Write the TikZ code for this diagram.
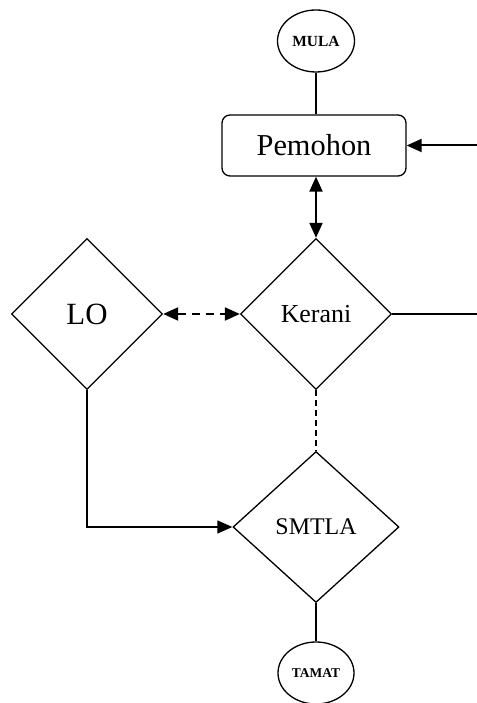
\documentclass[tikz,border=0pt]{standalone}
\usepackage{fontspec}
\setmainfont{Liberation Serif}
\usetikzlibrary{arrows.meta, positioning, shapes.geometric}

\begin{document}
\begin{tikzpicture}[
    x=1bp, y=1bp,
    >={Triangle[length=15bp, width=13bp]},
    terminal/.style={ellipse, draw, line width=1.3bp, inner sep=0pt, minimum width=77bp, minimum height=62bp, font=\fontsize{#1}{#1}\selectfont\bfseries},
    actor/.style={rectangle, rounded corners=8bp, draw, line width=1.3bp, minimum width=184bp, minimum height=61bp, font=\fontsize{30.5}{30.5}\selectfont},
    unit/.style={diamond, draw, line width=1.3bp, inner sep=0pt, minimum height=151bp, font=\fontsize{#1}{#1}\selectfont},
    plain/.style={line width=1.3bp},
    link/.style={line width=2bp}
  ]
  \useasboundingbox (0,0) rectangle (477,703);

  % Nodes
  \node[terminal=15.5] (mula) at (316, 662) {MULA};
  \node[actor] (pemohon) at (314, 557.5) {Pemohon};
  \node[unit=26, minimum width=151bp] (kerani) at (316, 389) {Kerani};
  \node[unit=31, minimum width=151bp] (lo) at (87, 389) {LO};
  \node[unit=24, minimum width=166bp] (smtla) at (316, 176) {SMTLA};
  \node[terminal=13.5, minimum width=76bp] (tamat) at (316, 30) {TAMAT};

  % Free ends at the right border
  \coordinate (inR) at (477, 557.5);
  \coordinate (outR) at (477, 389);

  % Connectors
  \draw[plain] (mula.south) -- (mula.south |- pemohon.north);
  \draw[link, ->] (inR) -- (pemohon.east);
  \draw[link, <->] (kerani.north |- pemohon.south) -- (kerani.north);
  \draw[link, <->, dash pattern=on 8bp off 6bp] (lo.east) -- (kerani.west);
  \draw[plain] (kerani.east) -- (outR);
  \draw[plain, dash pattern=on 6bp off 4bp] (kerani.south) -- (smtla.north);
  \draw[plain, ->] (lo.south) |- (smtla.west);
  \draw[plain] (smtla.south) -- (tamat.north);

\end{tikzpicture}
\end{document}
